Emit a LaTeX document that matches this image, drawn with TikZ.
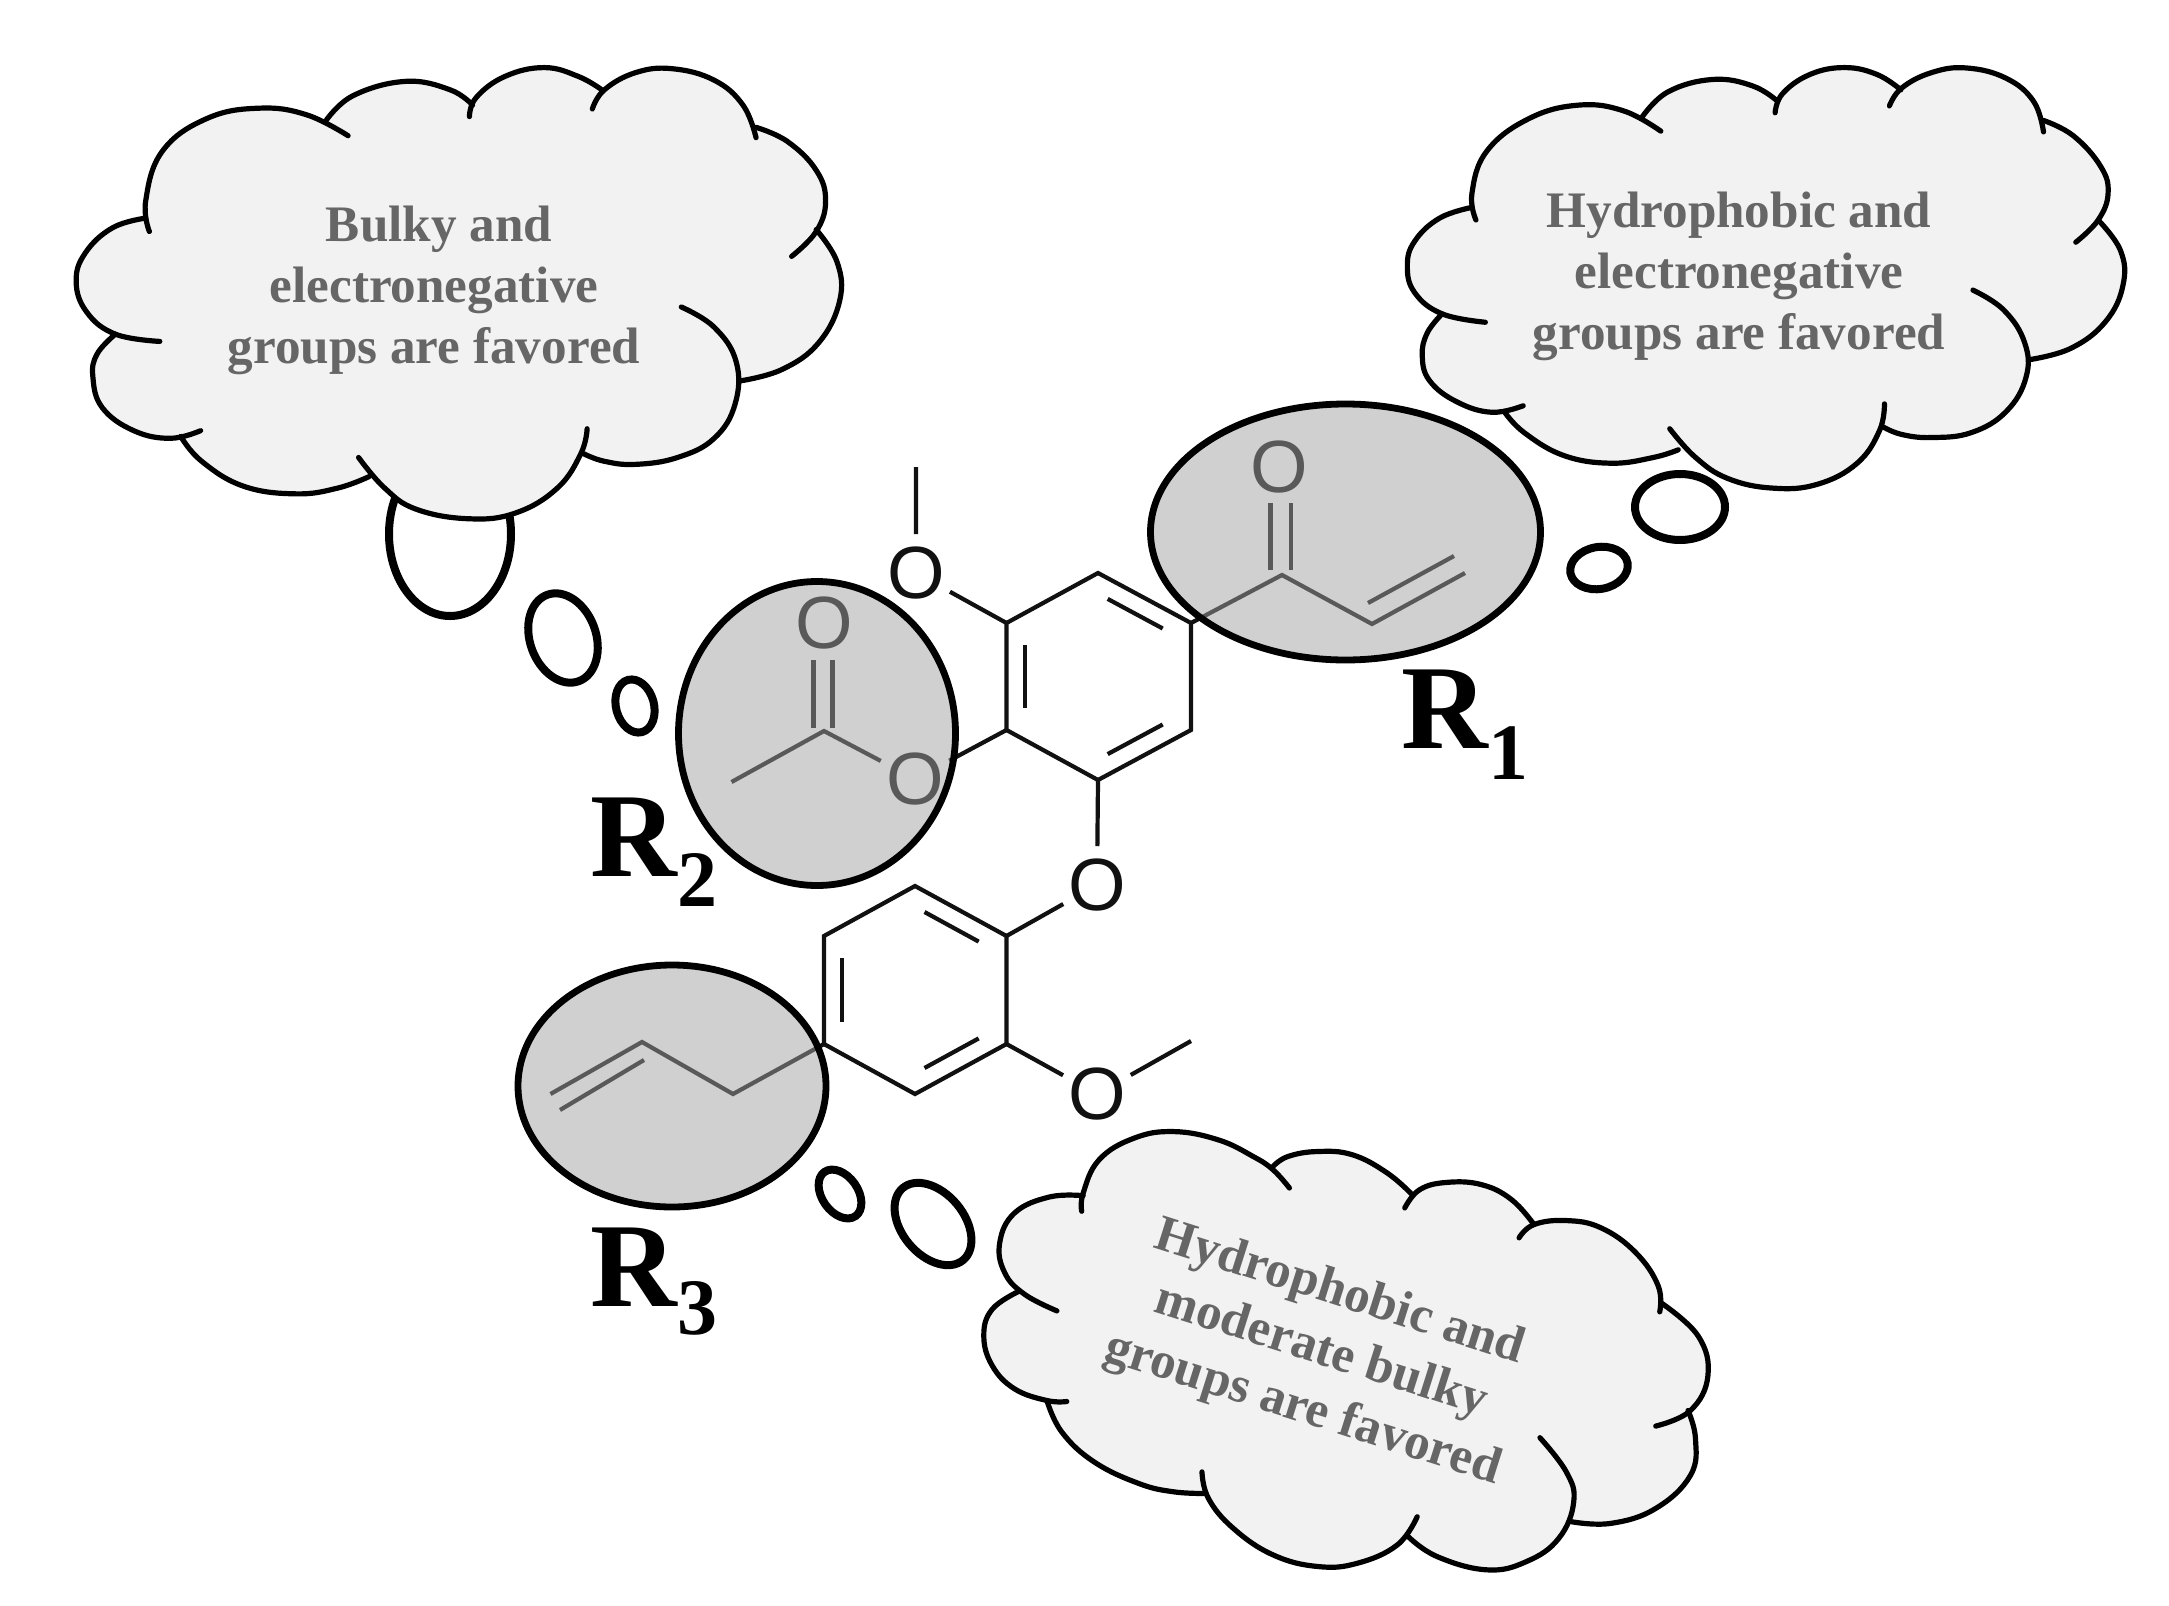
\documentclass[tikz,border=0pt]{standalone}
\usepackage{fontspec}
\setmainfont{Liberation Serif}
\newfontfamily\atomfont{Liberation Sans}
\usetikzlibrary{calc}
\tikzset{
  cloudfillstyle/.style={fill=cloudgrey,draw=none},
  cloudlinestyle/.style={draw=black,line width=2.6pt,line cap=round,line join=round},
  bubblestyle/.style={draw=black,line width=4pt,fill=white},
  spotstyle/.style={draw=black,line width=3.4pt,fill=spotgrey,fill opacity=0.5},
  bondstyle/.style={draw=bondblack,line width=2.1pt,line cap=butt,line join=miter},
  atomstyle/.style={circle,inner sep=0pt,outer sep=0pt,text=bondblack,font=\atomfont\fontsize{37}{37}\selectfont},
  cloudtext/.style={align=center,text=cloudtextgrey,inner sep=0pt,font=\bfseries\fontsize{25.6}{30.5}\selectfont},
  rlabel/.style={anchor=base west,inner sep=0pt,font=\bfseries\fontsize{60}{60}\selectfont},
}
\definecolor{cloudgrey}{HTML}{F2F2F2}
\definecolor{spotgrey}{HTML}{A2A2A2}
\definecolor{cloudtextgrey}{HTML}{666666}
\definecolor{bondblack}{HTML}{111111}
\newcommand\cloudshape[2]{%
  \fill[cloudfillstyle] #1 -- cycle;
  \foreach \lb in {#2}{\edef\tmpl{\noexpand\fill[cloudfillstyle] plot[smooth,tension=.7] coordinates {\lb};}\tmpl}
  \foreach \lb in {#2}{\edef\tmpl{\noexpand\draw[cloudlinestyle] plot[smooth,tension=.7] coordinates {\lb};}\tmpl}
}
\newcommand\dbl[3]{\draw[bondstyle] ($(#1)!.13!(#2)!.2!(#3)$) -- ($(#2)!.13!(#1)!.2!(#3)$);}
\newcommand\rsub[2]{R\raisebox{-#1pt}{\fontsize{40}{40}\selectfont #2}}
\begin{document}
\begin{tikzpicture}[x=0.5pt,y=-0.5pt]
\useasboundingbox[fill=white] (0,0) rectangle (2169,1606);

% thought bubbles
\draw[bubblestyle] (450,534) ellipse [x radius=61,y radius=82];
\draw[bubblestyle,rotate around={20:(563,638)}] (563,638) ellipse [x radius=33,y radius=46];
\draw[bubblestyle,rotate around={15:(635,706)}] (635,706) ellipse [x radius=19,y radius=27];
\draw[bubblestyle] (1680,507) ellipse [x radius=45,y radius=33];
\draw[bubblestyle,rotate around={10:(1599,568)}] (1599,568) ellipse [x radius=29,y radius=21];
\draw[bubblestyle,rotate around={35:(840,1194)}] (840,1194) ellipse [x radius=18,y radius=27];
\draw[bubblestyle,rotate around={40:(933,1224)}] (933,1224) ellipse [x radius=31,y radius=47];

% cloud R2
\begin{scope}[shift={(50,40)},xscale=.523,yscale=.383]
\cloudshape{(183,465)--(125,768)--(250,1035)--(610,1140)--(800,1230)--(1020,1080)--(1320,890)--(1465,495)--(1350,228)--(1055,130)--(808,170)--(528,210)}{
{(190,500)(183,420)(215,290)(300,205)(400,178)(490,195)(570,250)},
{(183,465)(120,490)(68,555)(50,630)(70,710)(125,768)(210,787)},
{(528,210)(580,145)(680,108)(765,130)(808,170)},
{(802,200)(815,150)(870,95)(945,72)(1010,95)(1055,130)},
{(1037,180)(1060,130)(1120,85)(1190,75)(1270,105)(1325,170)(1350,255)},
{(1350,228)(1410,265)(1465,340)(1483,420)(1465,500)(1418,565)},
{(1465,495)(1505,580)(1510,680)(1470,790)(1400,860)(1320,890)},
{(1207,697)(1270,750)(1312,840)(1310,950)(1270,1040)(1200,1090)(1120,1108)(1060,1100)(1020,1080)},
{(1027,1015)(1015,1080)(970,1170)(890,1235)(800,1250)(700,1225)(640,1170)(590,1090)},
{(610,1140)(550,1170)(470,1185)(370,1165)(290,1100)(250,1035)},
{(288,1020)(230,1040)(160,1020)(100,960)(82,880)(90,820)(125,768)}}
\end{scope}
\node[cloudtext] (textb) at (434,290) {\hspace*{5pt}Bulky and\\electronegative\\groups are favored};

% cloud R1
\begin{scope}[shift={(1380,40)},xscale=.497,yscale=.383]
\cloudshape{(185,437)--(125,715)--(250,970)--(600,1070)--(790,1150)--(1012,1010)--(1305,835)--(1445,470)--(1335,210)--(1048,130)--(800,160)--(528,200)}{
{(193,470)(185,400)(215,290)(300,205)(400,170)(490,185)(565,238)},
{(185,437)(120,465)(70,525)(55,590)(70,660)(125,715)(212,737)},
{(528,200)(580,135)(670,103)(750,120)(800,160)},
{(795,190)(810,140)(865,90)(935,72)(1000,90)(1048,130)},
{(1025,172)(1050,125)(1110,85)(1180,73)(1260,100)(1315,160)(1335,240)},
{(1335,210)(1395,250)(1450,330)(1465,400)(1445,470)(1400,528)},
{(1445,470)(1490,550)(1495,640)(1460,735)(1390,805)(1305,835)},
{(1193,653)(1255,705)(1297,790)(1300,880)(1260,970)(1190,1025)(1110,1038)(1050,1030)(1012,1010)},
{(1015,950)(1005,1020)(960,1105)(880,1160)(790,1170)(700,1145)(635,1090)(583,1015)},
{(600,1070)(550,1090)(465,1105)(370,1085)(290,1025)(250,970)},
{(288,955)(225,972)(155,945)(100,890)(85,825)(95,765)(125,715)}}
\end{scope}
\node[cloudtext] (texta) at (1739,276) {Hydrophobic and\\electronegative\\groups are favored};

% cloud R3
\begin{scope}[shift={(950,1110)},xscale=.497,yscale=.332]
\cloudshape{(268,258)--(140,545)--(195,875)--(507,1155)--(922,1285)--(1250,1240)--(1485,905)--(1430,600)--(1175,345)--(930,255)--(650,170)}{
{(265,305)(268,250)(300,150)(370,85)(450,65)(540,90)(610,140)(650,180)(683,235)},
{(268,258)(200,262)(130,310)(100,400)(110,490)(150,555)(215,605)},
{(140,545)(85,600)(68,680)(85,770)(130,840)(195,875)(235,878)},
{(195,875)(225,970)(290,1060)(380,1125)(450,1150)(515,1155)},
{(507,1090)(520,1170)(570,1260)(650,1340)(740,1375)(820,1365)(900,1310)(940,1225)},
{(922,1285)(980,1345)(1080,1385)(1160,1360)(1225,1290)(1255,1180)(1240,1090)(1187,987)},
{(1250,1240)(1330,1245)(1420,1200)(1490,1100)(1500,990)(1485,905)},
{(1420,952)(1490,905)(1525,800)(1505,680)(1430,580)},
{(1428,608)(1425,530)(1380,430)(1310,355)(1240,333)(1175,345)(1145,385)},
{(1175,345)(1130,270)(1070,225)(1000,218)(945,240)(915,295)},
{(930,255)(880,190)(810,135)(740,125)(680,140)(650,170)}}
\end{scope}
\node[cloudtext,rotate=-17.6,anchor=center] (textc) at (1321,1352) {Hydrophobic and\\moderate bulky\\groups are favored};

% molecule: ring A
\coordinate (a1) at (1098,573);
\coordinate (a2) at (1191,623);
\coordinate (a3) at (1191,730);
\coordinate (a4) at (1098,780);
\coordinate (a5) at (1006.5,730);
\coordinate (a6) at (1006.5,623);
\coordinate (ac) at (1098,676.5);
\draw[bondstyle] (a1)--(a2)--(a3)--(a4)--(a5)--(a6)--cycle;
\dbl{a1}{a2}{ac}\dbl{a3}{a4}{ac}\dbl{a5}{a6}{ac}
% ring B
\coordinate (b1) at (915,886);
\coordinate (b2) at (1006.5,936);
\coordinate (b3) at (1006.5,1044);
\coordinate (b4) at (915,1094);
\coordinate (b5) at (824,1044);
\coordinate (b6) at (824,936);
\coordinate (bc) at (915,990);
\draw[bondstyle] (b1)--(b2)--(b3)--(b4)--(b5)--(b6)--cycle;
\dbl{b1}{b2}{bc}\dbl{b3}{b4}{bc}\dbl{b5}{b6}{bc}
% oxygens
\node[atomstyle] (o1) at (916,573) {O};
\node[atomstyle] (o2) at (1097,885) {O};
\node[atomstyle] (o3) at (1097,1094) {O};
\node[atomstyle] (o4) at (1279,467) {O};
\node[atomstyle] (o5) at (915,779) {O};
\node[atomstyle] (o6) at (824,623) {O};
% ether bonds
\coordinate (me1) at (916,467);
\coordinate (me2) at (1191,1041);
\draw[bondstyle] (a6)--(o1)--(me1);
\draw[bondstyle] (a4)--(o2)--(b2);
\draw[bondstyle] (b3)--(o3)--(me2);
% R1 chain
\coordinate (c1) at (1282,575);
\coordinate (c2) at (1372,624);
\coordinate (c3) at (1465,573);
\coordinate (c1u) at (1270.5,570);
\coordinate (c1v) at (1291,570);
\coordinate (o4u) at (1270.5,503);
\coordinate (o4v) at (1291,503);
\coordinate (c2i) at (1368,603);
\coordinate (c3i) at (1454,556);
\draw[bondstyle] (a2)--(c1)--(c2)--(c3);
\draw[bondstyle] (c1u)--(o4u);
\draw[bondstyle] (c1v)--(o4v);
\draw[bondstyle] (c2i)--(c3i);
% R2 chain
\coordinate (d1) at (824,731);
\coordinate (d2) at (731.5,782);
\coordinate (d1u) at (813.5,728);
\coordinate (d1v) at (832.5,728);
\coordinate (o6u) at (813.5,660);
\coordinate (o6v) at (832.5,660);
\draw[bondstyle] (a5)--(o5)--(d1)--(d2);
\draw[bondstyle] (d1u)--(o6u);
\draw[bondstyle] (d1v)--(o6v);
% R3 chain
\coordinate (e1) at (733,1094);
\coordinate (e2) at (642,1042);
\coordinate (e3) at (550.5,1094);
\coordinate (e2i) at (644,1060);
\coordinate (e3i) at (560,1110);
\draw[bondstyle] (b5)--(e1)--(e2)--(e3);
\draw[bondstyle] (e2i)--(e3i);

% highlighted regions
\path[spotstyle] (1345.5,532) ellipse [x radius=195,y radius=128];
\path[spotstyle] (817,733.5) ellipse [x radius=138.5,y radius=152];
\path[spotstyle] (672,1086) ellipse [x radius=154,y radius=121];

% labels
\node[rlabel] (r1) at (1401,748) {\rsub{15.5}{1}};
\node[rlabel] (r2) at (590,876) {\rsub{15}{2}};
\node[rlabel] (r3) at (590,1306) {\rsub{14}{3}};
\end{tikzpicture}
\end{document}
